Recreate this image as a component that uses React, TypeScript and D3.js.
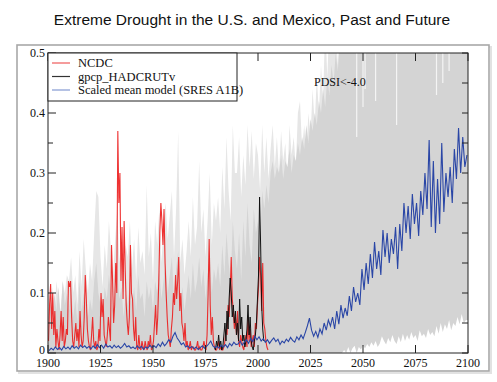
import React from "react";
import * as d3 from "d3";

const W = 497;
const H = 382;
const title = "Extreme Drought in the U.S. and Mexico, Past and Future";
const xTicks = [1900, 1925, 1950, 1975, 2000, 2025, 2050, 2075, 2100];
const yTicks = [0, 0.1, 0.2, 0.3, 0.4, 0.5];
const yMinor = [0.05, 0.15, 0.25, 0.35, 0.45];
const legendLabels = ["NCDC", "gpcp_HADCRUTv", "Scaled mean model (SRES A1B)"];
const annotation = "PDSI<-4.0";

// model ensemble spread, yearly 1900..2099 (values above 0.5 run off the chart)
const modelStart = 1900;
const lightGrayTop = [
  0.12, 0.08, 0.11, 0.06, 0.12, 0.09, 0.07, 0.12, 0.10, 0.13,
  0.12, 0.16, 0.10, 0.13, 0.08, 0.17, 0.11, 0.19, 0.14, 0.10,
  0.15, 0.12, 0.20, 0.27, 0.26, 0.16, 0.11, 0.18, 0.14, 0.22,
  0.17, 0.13, 0.19, 0.24, 0.15, 0.20, 0.12, 0.18, 0.16, 0.22,
  0.14, 0.19, 0.12, 0.21, 0.15, 0.17, 0.13, 0.28, 0.16, 0.20,
  0.12, 0.22, 0.18, 0.24, 0.15, 0.21, 0.25, 0.19, 0.23, 0.27,
  0.16, 0.24, 0.37, 0.15, 0.19, 0.13, 0.17, 0.22, 0.16, 0.26,
  0.18, 0.21, 0.32, 0.20, 0.24, 0.16, 0.22, 0.30, 0.18, 0.25,
  0.22, 0.26, 0.20, 0.31, 0.24, 0.36, 0.27, 0.22, 0.38, 0.30,
  0.30, 0.36, 0.26, 0.33, 0.28, 0.38, 0.31, 0.37, 0.29, 0.35,
  0.33, 0.27, 0.38, 0.30, 0.36, 0.29, 0.34, 0.38, 0.31, 0.36,
  0.30, 0.37, 0.32, 0.35, 0.29, 0.38, 0.33, 0.36, 0.31, 0.40,
  0.42, 0.34, 0.38, 0.33, 0.40, 0.36, 0.44, 0.38, 0.46, 0.40,
  0.48, 0.42, 0.55, 0.46, 0.55, 0.50, 0.55, 0.55, 0.48, 0.55,
  0.55, 0.55, 0.55, 0.55, 0.55, 0.55, 0.55, 0.55, 0.55, 0.55,
  0.55, 0.55, 0.55, 0.55, 0.55, 0.55, 0.55, 0.55, 0.55, 0.55,
  0.55, 0.55, 0.55, 0.55, 0.55, 0.55, 0.55, 0.55, 0.55, 0.55,
  0.55, 0.55, 0.55, 0.55, 0.55, 0.55, 0.55, 0.55, 0.55, 0.55,
  0.55, 0.55, 0.55, 0.55, 0.55, 0.55, 0.55, 0.55, 0.55, 0.55,
  0.55, 0.55, 0.55, 0.55, 0.55, 0.55, 0.55, 0.55, 0.55, 0.55,
];
const denseGrayTop = [
  0.06, 0.09, 0.05, 0.10, 0.07, 0.11, 0.06, 0.12, 0.08, 0.10,
  0.07, 0.11, 0.06, 0.09, 0.05, 0.12, 0.07, 0.10, 0.08, 0.06,
  0.09, 0.07, 0.12, 0.15, 0.10, 0.08, 0.06, 0.11, 0.09, 0.13,
  0.10, 0.07, 0.12, 0.14, 0.09, 0.11, 0.06, 0.10, 0.08, 0.12,
  0.08, 0.11, 0.07, 0.13, 0.09, 0.10, 0.06, 0.12, 0.09, 0.11,
  0.07, 0.12, 0.10, 0.14, 0.09, 0.12, 0.15, 0.10, 0.13, 0.16,
  0.09, 0.14, 0.17, 0.08, 0.11, 0.07, 0.10, 0.13, 0.09, 0.15,
  0.10, 0.12, 0.16, 0.11, 0.14, 0.09, 0.13, 0.17, 0.10, 0.14,
  0.12, 0.15, 0.11, 0.18, 0.13, 0.20, 0.15, 0.12, 0.22, 0.17,
  0.14, 0.20, 0.12, 0.22, 0.16, 0.25, 0.18, 0.15, 0.24, 0.20,
  0.22, 0.18, 0.27, 0.24, 0.28, 0.25, 0.30, 0.32, 0.29, 0.31,
  0.30, 0.33, 0.29, 0.32, 0.31, 0.34, 0.30, 0.33, 0.32, 0.35,
  0.33, 0.36, 0.34, 0.38, 0.35, 0.39, 0.37, 0.40, 0.38, 0.42,
  0.40, 0.44, 0.41, 0.46, 0.43, 0.48, 0.45, 0.50, 0.47, 0.52,
  0.50, 0.55, 0.52, 0.55, 0.54, 0.55, 0.55, 0.55, 0.55, 0.55,
  0.55, 0.55, 0.55, 0.55, 0.55, 0.55, 0.55, 0.55, 0.55, 0.55,
  0.55, 0.55, 0.55, 0.55, 0.55, 0.55, 0.55, 0.55, 0.55, 0.55,
  0.55, 0.55, 0.55, 0.55, 0.55, 0.55, 0.55, 0.55, 0.55, 0.55,
  0.55, 0.55, 0.55, 0.55, 0.55, 0.55, 0.55, 0.55, 0.55, 0.55,
  0.55, 0.55, 0.55, 0.55, 0.55, 0.55, 0.55, 0.55, 0.55, 0.55,
];
// lower edge of the spread (white beneath), yearly 2040..2099
const lowerStart = 2040;
const lowerEdge = [
  0, 0.005, 0, 0.01, 0, 0.008, 0.012, 0, 0.01, 0.006,
  0.012, 0.008, 0.015, 0.01, 0.018, 0.012, 0.02, 0.01, 0.016, 0.028,
  0.02, 0.014, 0.025, 0.018, 0.03, 0.02, 0.015, 0.028, 0.018, 0.032,
  0.02, 0.03, 0.022, 0.035, 0.025, 0.03, 0.02, 0.038, 0.028, 0.032,
  0.025, 0.04, 0.03, 0.035, 0.028, 0.045, 0.032, 0.05, 0.035, 0.048,
  0.04, 0.055, 0.038, 0.05, 0.045, 0.06, 0.048, 0.065, 0.05, 0.055,
];
// gaps in the upper spread: [year, lowest value of the gap]
const upperGaps: [number, number][] = [
  [2047, 0.36], [2050, 0.41], [2051, 0.44], [2056, 0.42],
  [2066, 0.38], [2085, 0.43], [2088, 0.45], [2091, 0.47],
];

// NCDC, two values per year 1900..2004
const ncdcStart = 1900;
const ncdc = [
  0.02, 0.08, 0.115, 0.04, 0.10, 0.03, 0.07, 0.01, 0.04, 0.02,
  0.005, 0.03, 0.07, 0.02, 0.06, 0.01, 0.02, 0.04, 0.03, 0.12,
  0.11, 0.12, 0.06, 0.02, 0.01, 0.03, 0.05, 0.02, 0.04, 0.01,
  0.07, 0.03, 0.01, 0.02, 0.06, 0.13, 0.09, 0.04, 0.02, 0.01,
  0.005, 0.03, 0.06, 0.02, 0.01, 0.02, 0.005, 0.01, 0.04, 0.02,
  0.10, 0.06, 0.09, 0.03, 0.02, 0.01, 0.03, 0.06, 0.04, 0.02,
  0.18, 0.12, 0.05, 0.08, 0.15, 0.10, 0.37, 0.25, 0.30, 0.12,
  0.21, 0.09, 0.22, 0.14, 0.08, 0.05, 0.03, 0.06, 0.18, 0.10,
  0.09, 0.04, 0.02, 0.06, 0.01, 0.005, 0.03, 0.01, 0.005, 0.02,
  0.01, 0.005, 0.02, 0.01, 0.005, 0.02, 0.01, 0.03, 0.005, 0.01,
  0.02, 0.05, 0.08, 0.03, 0.06, 0.12, 0.20, 0.25, 0.22, 0.18,
  0.24, 0.15, 0.10, 0.06, 0.03, 0.02, 0.01, 0.04, 0.06, 0.10,
  0.08, 0.13, 0.09, 0.12, 0.16, 0.07, 0.10, 0.05, 0.04, 0.02,
  0.05, 0.01, 0.02, 0.005, 0.01, 0.02, 0.005, 0.01, 0.01, 0.005,
  0.005, 0.01, 0.02, 0.005, 0.01, 0.005, 0.005, 0.01, 0.02, 0.01,
  0.005, 0.03, 0.10, 0.19, 0.08, 0.03, 0.06, 0.02, 0.01, 0.005,
  0.005, 0.01, 0.02, 0.005, 0.01, 0.005, 0.005, 0.01, 0.02, 0.04,
  0.03, 0.08, 0.06, 0.10, 0.16, 0.09, 0.07, 0.04, 0.06, 0.03,
  0.07, 0.02, 0.01, 0.03, 0.02, 0.01, 0.005, 0.02, 0.03, 0.01,
  0.06, 0.02, 0.04, 0.01, 0.02, 0.03, 0.01, 0.05, 0.04, 0.08,
  0.11, 0.16, 0.13, 0.07, 0.15, 0.05, 0.04, 0.02, 0.01, 0.005,
];

// gpcp_HADCRUTv, two values per year 1979..2002
const gpcpStart = 1979;
const gpcp = [
  0.01, 0.005, 0.02, 0.01, 0.03, 0.01, 0.02, 0.005, 0.01, 0.03,
  0.05, 0.02, 0.07, 0.04, 0.09, 0.125, 0.10, 0.06, 0.08, 0.05,
  0.07, 0.03, 0.05, 0.02, 0.09, 0.04, 0.06, 0.02, 0.03, 0.01,
  0.02, 0.04, 0.08, 0.03, 0.06, 0.02, 0.01, 0.005, 0.02, 0.03,
  0.05, 0.09, 0.13, 0.26, 0.18, 0.08, 0.04, 0.02,
];

// scaled mean model, yearly 1900..2099
const blueStart = 1900;
const scaledMean = [
  0.004, 0.008, 0.005, 0.010, 0.006, 0.009, 0.005, 0.011, 0.007, 0.010,
  0.006, 0.012, 0.008, 0.011, 0.007, 0.013, 0.009, 0.012, 0.008, 0.011,
  0.007, 0.012, 0.008, 0.014, 0.009, 0.013, 0.008, 0.015, 0.010, 0.012,
  0.008, 0.013, 0.009, 0.012, 0.008, 0.011, 0.016, 0.010, 0.012, 0.008,
  0.010, 0.007, 0.012, 0.008, 0.011, 0.006, 0.010, 0.008, 0.013, 0.009,
  0.012, 0.009, 0.015, 0.011, 0.018, 0.012, 0.016, 0.022, 0.018, 0.028,
  0.034, 0.025, 0.020, 0.014, 0.017, 0.010, 0.012, 0.008, 0.011, 0.007,
  0.010, 0.006, 0.009, 0.012, 0.008, 0.011, 0.015, 0.020, 0.012, 0.009,
  0.011, 0.008, 0.013, 0.010, 0.014, 0.009, 0.016, 0.012, 0.018, 0.014,
  0.015, 0.020, 0.013, 0.018, 0.022, 0.016, 0.024, 0.019, 0.028, 0.022,
  0.027, 0.020, 0.024, 0.018, 0.022, 0.016, 0.021, 0.025, 0.019, 0.023,
  0.014, 0.020, 0.017, 0.023, 0.019, 0.026, 0.021, 0.018, 0.027, 0.022,
  0.030, 0.024, 0.034, 0.045, 0.058, 0.038, 0.028, 0.036, 0.026, 0.040,
  0.032, 0.050, 0.038, 0.055, 0.045, 0.060, 0.040, 0.070, 0.048, 0.080,
  0.058, 0.075, 0.062, 0.095, 0.070, 0.110, 0.085, 0.100, 0.080, 0.140,
  0.105, 0.150, 0.115, 0.165, 0.125, 0.185, 0.140, 0.170, 0.130, 0.205,
  0.160, 0.200, 0.150, 0.190, 0.165, 0.210, 0.140, 0.215, 0.170, 0.250,
  0.200, 0.245, 0.190, 0.265, 0.215, 0.250, 0.195, 0.270, 0.230, 0.300,
  0.240, 0.355, 0.210, 0.320, 0.200, 0.290, 0.215, 0.350, 0.235, 0.300,
  0.260, 0.310, 0.250, 0.340, 0.290, 0.375, 0.300, 0.360, 0.310, 0.330,
];

type P = [number, number];

export default function App() {
  const x = d3.scaleLinear().domain([1900, 2100]).range([48, 468]);
  const y = d3.scaleLinear().domain([0, 0.5]).range([353, 53]);
  const [x0, x1] = x.range();
  const [yb, yt] = y.range();

  const toPts = (arr: number[], start: number, step: number, off: number): P[] =>
    arr.map((v, i) => [start + i * step + off, v] as P);
  const extendToEnd = (pts: P[]): P[] => [...pts, [x.domain()[1], pts[pts.length - 1][1]]];

  const area = d3
    .area<P>()
    .x((d) => x(d[0]))
    .y0(y(0))
    .y1((d) => y(d[1]));
  const line = d3
    .line<P>()
    .x((d) => x(d[0]))
    .y((d) => y(d[1]));

  const light = extendToEnd(toPts(lightGrayTop, modelStart, 1, 0));
  const dense = extendToEnd(toPts(denseGrayTop, modelStart, 1, 0));
  const lower = extendToEnd(toPts(lowerEdge, lowerStart, 1, 0));
  const red = toPts(ncdc, ncdcStart, 0.5, 0.25);
  const black = toPts(gpcp, gpcpStart, 0.5, 0.25);
  const blue = toPts(scaledMean, blueStart, 1, 0.5);

  const serif = "'Liberation Serif', 'Times New Roman', serif";
  const legendColors = ["#ee5a5a", "#333333", "#8399d2"];
  const legendY = [63, 76.5, 90];

  return (
    <svg
      width={W}
      height={H}
      style={{ position: "absolute", left: 0, top: 0, background: "#fff" }}
    >
      <defs>
        <clipPath id="plotClip">
          <rect x={x0} y={yt} width={x1 - x0} height={yb - yt} />
        </clipPath>
      </defs>
      <text
        x={252}
        y={25}
        textAnchor="middle"
        fontFamily="'Liberation Sans', Arial, sans-serif"
        fontSize={15.5}
        fill="#111"
      >
        {title}
      </text>

      {/* outer frame */}
      <rect x={19} y={47} width={472} height={326} fill="none" stroke="#e2e2e2" strokeWidth={2} />
      <rect x={17} y={45} width={472} height={326} fill="#fff" stroke="#a8a8a8" strokeWidth={1.6} />

      <g clipPath="url(#plotClip)">
        <path d={area(light) || ""} fill="#e6e6e6" />
        <path d={area(dense) || ""} fill="#d4d4d4" />
        <path d={area(lower) || ""} fill="#ffffff" />
        {upperGaps.map(([yr, v], i) => (
          <line
            key={i}
            x1={x(yr)}
            x2={x(yr)}
            y1={yt}
            y2={y(v)}
            stroke="#f4f4f4"
            strokeWidth={1.2}
          />
        ))}
        <path d={line(red) || ""} fill="none" stroke="#ec1c1c" strokeWidth={1.1} strokeOpacity={0.9} />
        <path d={line(black) || ""} fill="none" stroke="#111111" strokeWidth={1} />
        <path d={line(blue) || ""} fill="none" stroke="#2a46a6" strokeWidth={1.1} />
      </g>

      {/* plot frame */}
      <rect x={x0} y={yt} width={x1 - x0} height={yb - yt} fill="none" stroke="#222" strokeWidth={1} />

      {/* x ticks */}
      {xTicks.map((t) => (
        <g key={"x" + t}>
          <line x1={x(t)} x2={x(t)} y1={yb} y2={yb - 8} stroke="#222" />
          <line x1={x(t)} x2={x(t)} y1={yt} y2={yt + 8} stroke="#222" />
          <text
            x={x(t)}
            y={yb + 14}
            textAnchor="middle"
            fontFamily={serif}
            fontSize={12}
            fill="#111"
          >
            {t}
          </text>
        </g>
      ))}
      {/* y ticks */}
      {yTicks.map((t) => (
        <g key={"y" + t}>
          <line x1={x0} x2={x0 + 8} y1={y(t)} y2={y(t)} stroke="#222" />
          <line x1={x1} x2={x1 - 6} y1={y(t)} y2={y(t)} stroke="#222" />
          <text
            x={x0 - 3}
            y={t === 0 ? y(t) + 0.5 : y(t) + 4}
            textAnchor="end"
            fontFamily={serif}
            fontSize={12}
            fill="#111"
          >
            {t === 0 ? "0" : String(t)}
          </text>
        </g>
      ))}
      {yMinor.map((t) => (
        <g key={"m" + t}>
          <line x1={x0} x2={x0 + 5} y1={y(t)} y2={y(t)} stroke="#222" />
          <line x1={x1} x2={x1 - 6} y1={y(t)} y2={y(t)} stroke="#222" />
        </g>
      ))}

      {/* legend */}
      <rect x={x0} y={yt} width={189} height={48} fill="#fff" stroke="#222" strokeWidth={1} />
      {legendLabels.map((l, i) => (
        <g key={l}>
          <line x1={52} x2={70} y1={legendY[i]} y2={legendY[i]} stroke={legendColors[i]} strokeWidth={1.2} />
          <text x={78} y={legendY[i] + 4} fontFamily={serif} fontSize={12.5} fill="#111">
            {l}
          </text>
        </g>
      ))}

      <text x={314} y={86} fontFamily={serif} fontSize={12} fill="#111">
        {annotation}
      </text>
    </svg>
  );
}
